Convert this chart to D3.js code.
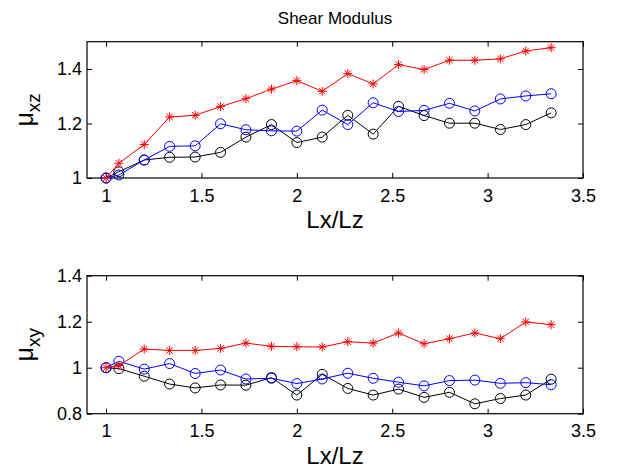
<!DOCTYPE html>
<html>
<head>
<meta charset="utf-8">
<script src="https://cdn.jsdelivr.net/npm/d3@7"></script>
<style>
  html, body { margin: 0; padding: 0; background: #fff; overflow: hidden; }
  svg { display: block; font-family: "Liberation Sans", Arial, Helvetica, sans-serif; }
</style>
</head>
<body>
<svg id="chart" width="634" height="468"></svg>
<script>
// ---- data ----
const lxOverLz = [1, 1.067, 1.2, 1.333, 1.467, 1.6, 1.733, 1.867, 2, 2.133, 2.267, 2.4, 2.533, 2.667, 2.8, 2.933, 3.067, 3.2, 3.333];

const muXzRed   = [1.0, 1.054, 1.123, 1.224, 1.230, 1.262, 1.291, 1.326, 1.357, 1.318, 1.383, 1.345, 1.416, 1.398, 1.432, 1.432, 1.437, 1.466, 1.478];
const muXzBlue  = [1.0, 1.011, 1.066, 1.116, 1.118, 1.199, 1.177, 1.173, 1.172, 1.249, 1.196, 1.276, 1.244, 1.248, 1.274, 1.246, 1.290, 1.301, 1.309];
const muXzBlack = [1.0, 1.023, 1.066, 1.076, 1.077, 1.094, 1.150, 1.196, 1.130, 1.150, 1.230, 1.161, 1.263, 1.229, 1.201, 1.201, 1.178, 1.196, 1.239];

const muXyRed   = [1.0, 1.009, 1.081, 1.075, 1.075, 1.084, 1.107, 1.093, 1.091, 1.090, 1.113, 1.107, 1.151, 1.104, 1.126, 1.151, 1.126, 1.199, 1.187];
const muXyBlue  = [1.0, 1.028, 0.994, 1.018, 0.975, 0.990, 0.951, 0.954, 0.931, 0.951, 0.976, 0.954, 0.937, 0.921, 0.944, 0.946, 0.932, 0.935, 0.926];
const muXyBlack = [1.0, 0.996, 0.963, 0.929, 0.912, 0.925, 0.924, 0.957, 0.881, 0.971, 0.910, 0.881, 0.907, 0.871, 0.893, 0.843, 0.866, 0.881, 0.950];

const xTicks = [1, 1.5, 2, 2.5, 3, 3.5];
const xTickLabels = ["1", "1.5", "2", "2.5", "3", "3.5"];
const yTicksTop = [1, 1.2, 1.4];
const yTickLabelsTop = ["1", "1.2", "1.4"];
const yTicksBottom = [0.8, 1, 1.2, 1.4];
const yTickLabelsBottom = ["0.8", "1", "1.2", "1.4"];

const titleText = "Shear Modulus";
const xLabelText = "Lx/Lz";

// ---- layout ----
const svg = d3.select("#chart");
const left = 87, right = 583;

const panels = [
  { top: 41.7, bottom: 178, domain: [1, 1.5], ticks: yTicksTop, labels: yTickLabelsTop, sub: "xz",
    series: [ {v: muXzBlack, c: "#000000", m: "o"}, {v: muXzBlue, c: "#0000ff", m: "o"}, {v: muXzRed, c: "#ff0000", m: "*"} ] },
  { top: 275.7, bottom: 413.7, domain: [0.8, 1.4], ticks: yTicksBottom, labels: yTickLabelsBottom, sub: "xy",
    series: [ {v: muXyBlack, c: "#000000", m: "o"}, {v: muXyBlue, c: "#0000ff", m: "o"}, {v: muXyRed, c: "#ff0000", m: "*"} ] }
];

const x = d3.scaleLinear().domain([0.9, 3.5]).range([left, right]);

svg.append("text")
  .attr("x", (left + right) / 2).attr("y", 24)
  .attr("text-anchor", "middle").attr("font-size", 17).attr("fill", "#000")
  .text(titleText);

function starPath(s) {
  const d = s * 0.7071;
  return `M${-s},0L${s},0M0,${-s}L0,${s}M${-d},${-d}L${d},${d}M${-d},${d}L${d},${-d}`;
}

panels.forEach(p => {
  const y = d3.scaleLinear().domain(p.domain).range([p.bottom, p.top]);
  const g = svg.append("g");
  const tl = 5;

  // axes box
  g.append("rect").attr("x", left).attr("y", p.top)
    .attr("width", right - left).attr("height", p.bottom - p.top)
    .attr("fill", "none").attr("stroke", "#000").attr("stroke-width", 1.2);

  const xb = d3.axisBottom(x).tickValues(xTicks).tickFormat((d, i) => xTickLabels[i]).tickSize(-tl);
  const gx = g.append("g").attr("transform", `translate(0,${p.bottom})`).call(xb);
  gx.select(".domain").remove();
  gx.selectAll("line").attr("stroke", "#000");
  gx.selectAll("text").attr("font-size", 18).attr("fill", "#000").attr("dy", "0.71em").attr("y", 11)
    .attr("font-family", "Liberation Sans, Arial, sans-serif");

  const xt = d3.axisTop(x).tickValues(xTicks).tickFormat("").tickSize(-tl);
  const gxt = g.append("g").attr("transform", `translate(0,${p.top})`).call(xt);
  gxt.select(".domain").remove();
  gxt.selectAll("line").attr("stroke", "#000");

  const yl = d3.axisLeft(y).tickValues(p.ticks).tickFormat((d, i) => p.labels[i]).tickSize(-tl);
  const gy = g.append("g").attr("transform", `translate(${left},0)`).call(yl);
  gy.select(".domain").remove();
  gy.selectAll("line").attr("stroke", "#000");
  gy.selectAll("text").attr("font-size", 18).attr("fill", "#000").attr("x", -5)
    .attr("font-family", "Liberation Sans, Arial, sans-serif");

  const yr = d3.axisRight(y).tickValues(p.ticks).tickFormat("").tickSize(-tl);
  const gyr = g.append("g").attr("transform", `translate(${right},0)`).call(yr);
  gyr.select(".domain").remove();
  gyr.selectAll("line").attr("stroke", "#000");

  // x label
  g.append("text").attr("x", (left + right) / 2).attr("y", p.bottom + 50)
    .attr("text-anchor", "middle").attr("font-size", 24).attr("fill", "#000")
    .text(xLabelText);

  // y label (rotated mu with subscript)
  const cy = (p.top + p.bottom) / 2;
  const yt = g.append("text").attr("transform", `translate(33,${cy}) rotate(-90)`)
    .attr("text-anchor", "middle").attr("font-size", 25).attr("fill", "#000");
  yt.append("tspan").text("\u03bc");
  yt.append("tspan").attr("font-size", 19).attr("dy", 7).text(p.sub);

  // data
  const line = d3.line().x((d, i) => x(lxOverLz[i])).y(d => y(d));
  p.series.forEach(s => {
    g.append("path").datum(s.v).attr("d", line)
      .attr("fill", "none").attr("stroke", s.c).attr("stroke-width", 1);
    if (s.m === "o") {
      g.selectAll(null).data(s.v).enter().append("circle")
        .attr("cx", (d, i) => x(lxOverLz[i])).attr("cy", d => y(d)).attr("r", 5)
        .attr("fill", "none").attr("stroke", s.c).attr("stroke-width", 1);
    } else {
      g.selectAll(null).data(s.v).enter().append("path")
        .attr("transform", (d, i) => `translate(${x(lxOverLz[i])},${y(d)})`)
        .attr("d", starPath(4.5))
        .attr("fill", "none").attr("stroke", s.c).attr("stroke-width", 1);
    }
  });
});
</script>
</body>
</html>
